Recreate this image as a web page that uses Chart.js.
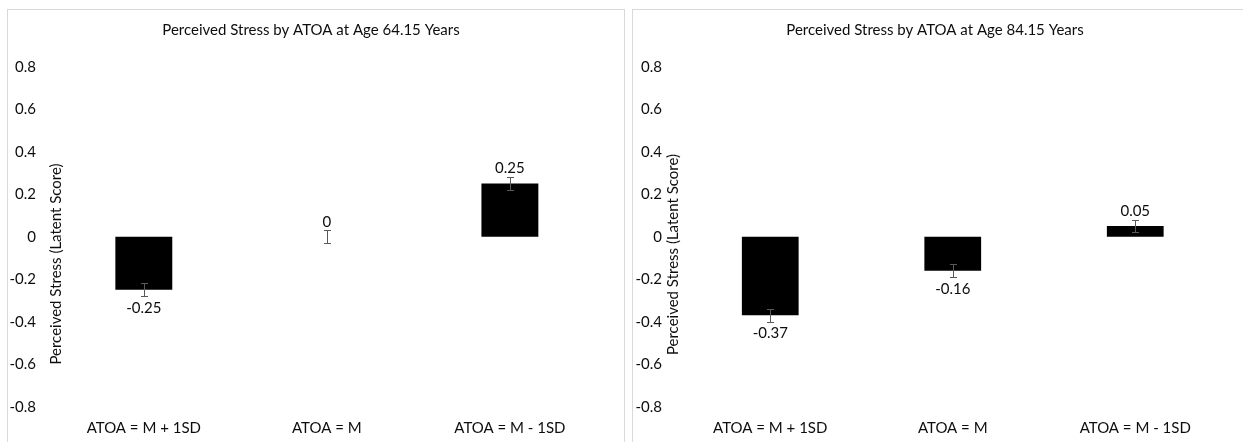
<!DOCTYPE html>
<html><head><meta charset="utf-8">
<script src="https://cdn.jsdelivr.net/npm/chart.js@4.4.1/dist/chart.umd.min.js"></script>
<style>
html,body{margin:0;padding:0;background:#fff;width:1243px;height:442px;overflow:hidden}
.panel{position:absolute;top:9px;border-top:1px solid #d9d9d9;border-left:1px solid #d9d9d9;box-sizing:border-box;background:#fff}
#p1{left:7px;width:618px;height:433px;border-right:1px solid #d9d9d9}
#p2{left:632px;width:611px;height:433px}
canvas{display:block}
</style></head><body>
<div class="panel" id="p1"><canvas id="c1" width="616" height="432"></canvas></div>
<div class="panel" id="p2"><canvas id="c2" width="610" height="432"></canvas></div>
<script>
const categories = ['ATOA = M + 1SD', 'ATOA = M', 'ATOA = M - 1SD'];
const stressAge64 = [-0.25, 0, 0.25];
const stressAge84 = [-0.37, -0.16, 0.05];
const errorAge64 = [0.03, 0.03, 0.03];
const errorAge84 = [0.03, 0.03, 0.03];
const yTickValues = [-0.8, -0.6, -0.4, -0.2, 0, 0.2, 0.4, 0.6, 0.8];
const yTickLabels = ['-0.8', '-0.6', '-0.4', '-0.2', '0', '0.2', '0.4', '0.6', '0.8'];
const chartTitles = ['Perceived Stress by ATOA at Age 64.15 Years', 'Perceived Stress by ATOA at Age 84.15 Years'];
const yAxisTitle = 'Perceived Stress (Latent Score)';

const FONT_FAMILY = 'Lato, "Open Sans", sans-serif';
const FONT_SIZE = 15;
const TEXT_COLOR = '#0d0d0d';

const decor = {
  id: 'decor',
  afterDatasetsDraw(chart, args, o) {
    const ctx = chart.ctx, ys = chart.scales.y;
    const meta = chart.getDatasetMeta(0);
    const ds = chart.data.datasets[0];
    ctx.save();
    ctx.font = FONT_SIZE + 'px ' + FONT_FAMILY;
    meta.data.forEach((bar, i) => {
      const v = ds.data[i], e = o.errors[i];
      const x = Math.round(bar.x) + 0.5;
      const y1 = Math.round(ys.getPixelForValue(v + e)) + 0.5;
      const y2 = Math.round(ys.getPixelForValue(v - e)) + 0.5;
      ctx.strokeStyle = '#595959';
      ctx.lineWidth = 1;
      ctx.beginPath();
      ctx.moveTo(x, y1); ctx.lineTo(x, y2);
      ctx.moveTo(x - 3.5, y1); ctx.lineTo(x + 3.5, y1);
      ctx.moveTo(x - 3.5, y2); ctx.lineTo(x + 3.5, y2);
      ctx.stroke();
      ctx.fillStyle = TEXT_COLOR;
      ctx.textAlign = 'center';
      ctx.textBaseline = 'middle';
      const ly = v < 0 ? bar.y + 18 : bar.y - 15;
      ctx.fillText(String(v), bar.x, ly);
    });
    ctx.fillStyle = TEXT_COLOR;
    ctx.textAlign = 'center';
    ctx.textBaseline = 'middle';
    ctx.fillText(o.title, o.titleX, o.titleY);
    ctx.translate(o.axisX, o.axisY);
    ctx.rotate(-Math.PI / 2);
    ctx.fillText(yAxisTitle, 0, 0);
    ctx.restore();
  }
};

function makeChart(id, values, errors, title, cfg) {
  return new Chart(document.getElementById(id), {
    type: 'bar',
    data: {
      labels: categories,
      datasets: [{
        data: values,
        backgroundColor: '#000000',
        borderWidth: 0,
        categoryPercentage: 1,
        barPercentage: 0.311
      }]
    },
    options: {
      responsive: false,
      animation: false,
      devicePixelRatio: 1,
      layout: { padding: { top: 56.7, right: cfg.padRight, left: 0, bottom: 0 } },
      plugins: {
        legend: { display: false },
        tooltip: { enabled: false },
        title: { display: false },
        decor: { errors: errors, title: title, titleX: cfg.titleX, titleY: 20, axisX: cfg.axisX, axisY: cfg.axisY }
      },
      scales: {
        x: {
          grid: { display: false, drawTicks: false },
          border: { display: false },
          ticks: { color: TEXT_COLOR, font: { family: FONT_FAMILY, size: FONT_SIZE }, padding: 12, maxRotation: 0, autoSkip: false },
          afterFit(s) { s.height = 432 - 396.7; }
        },
        y: {
          min: -0.8, max: 0.8,
          grid: { display: false, drawTicks: false },
          border: { display: false },
          afterBuildTicks(s) { s.ticks = yTickValues.map(v => ({ value: v })); },
          ticks: {
            color: TEXT_COLOR,
            font: { family: FONT_FAMILY, size: FONT_SIZE },
            padding: cfg.tickPad,
            callback: (v) => yTickLabels[yTickValues.findIndex(t => Math.abs(t - v) < 1e-9)]
          },
          afterFit(s) { s.width = cfg.axisWidth; }
        }
      }
    },
    plugins: [decor]
  });
}

makeChart('c1', stressAge64, errorAge64, chartTitles[0], { padRight: 22.6, axisWidth: 44.3, tickPad: 16.3, titleX: 303, axisX: 48, axisY: 254 });
makeChart('c2', stressAge84, errorAge84, chartTitles[1], { padRight: 16.5, axisWidth: 46, tickPad: 17, titleX: 302, axisX: 40, axisY: 244.5 });
</script>
</body></html>
